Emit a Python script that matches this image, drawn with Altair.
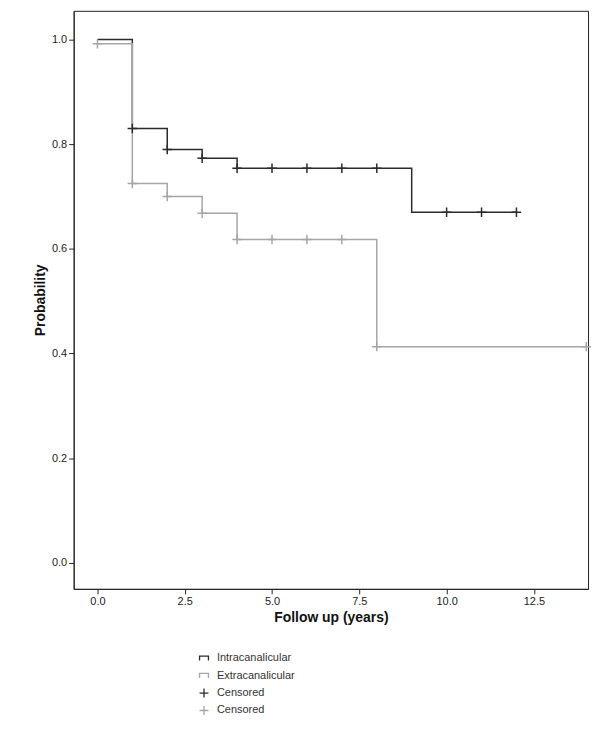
import altair as alt
import pandas as pd

# step curves (time, survival)
intra_t = [0, 1, 2, 3, 4, 9, 12]
intra_s = [1.0, 0.83, 0.79, 0.773, 0.754, 0.67, 0.67]
extra_t = [0, 1, 2, 3, 4, 8, 14]
extra_s = [0.992, 0.725, 0.70, 0.668, 0.618, 0.413, 0.413]

# censored observations
intra_ct = [1, 2, 3, 4, 5, 6, 7, 8, 10, 11, 12]
intra_cs = [0.83, 0.79, 0.773, 0.754, 0.754, 0.754, 0.754, 0.754, 0.67, 0.67, 0.67]
extra_ct = [0, 1, 2, 3, 4, 5, 6, 7, 8, 14]
extra_cs = [0.992, 0.725, 0.70, 0.668, 0.618, 0.618, 0.618, 0.618, 0.413, 0.413]

dark = '#2b2b2b'
light = '#a6a6a6'

curves = pd.concat([
    pd.DataFrame({'t': intra_t, 's': intra_s, 'g': 'Intracanalicular'}),
    pd.DataFrame({'t': extra_t, 's': extra_s, 'g': 'Extracanalicular'}),
])
cens = pd.concat([
    pd.DataFrame({'t': intra_ct, 's': intra_cs, 'g': 'Intracanalicular'}),
    pd.DataFrame({'t': extra_ct, 's': extra_cs, 'g': 'Extracanalicular'}),
])

color = alt.Color('g:N', scale=alt.Scale(domain=['Intracanalicular', 'Extracanalicular'],
                                         range=[dark, light]), legend=None)
xenc = alt.X('t:Q', title='Follow up (years)', scale=alt.Scale(domain=[-0.68, 14.05], nice=False, zero=False),
             axis=alt.Axis(values=[0, 2.5, 5, 7.5, 10, 12.5], format='.1f', grid=False))
yenc = alt.Y('s:Q', title='Probability', scale=alt.Scale(domain=[-0.05, 1.055], nice=False, zero=False),
             axis=alt.Axis(values=[0, 0.2, 0.4, 0.6, 0.8, 1.0], format='.1f', grid=False))

lines = alt.Chart(curves).mark_line(interpolate='step-after', strokeWidth=1.5).encode(
    x=xenc, y=yenc, color=color, detail='g:N')
plus = 'M-1,0L1,0M0,-1L0,1'
marks = alt.Chart(cens).mark_point(shape=plus, filled=False, size=90, strokeWidth=1.5, opacity=1).encode(
    x='t:Q', y='s:Q', color=color)

main = (lines + marks).properties(width=517, height=581)

# legend
leg_labels = ['Intracanalicular', 'Extracanalicular', 'Censored', 'Censored']
leg_colors = [dark, light, dark, light]
leg_shapes = ['M-1,0.5L-1,-0.5L1,-0.5L1,0.5', 'M-1,0.5L-1,-0.5L1,-0.5L1,0.5', plus, plus]
leg = pd.DataFrame({'label': leg_labels, 'c': leg_colors, 'shape': leg_shapes, 'i': [0, 1, 2, 3]})

ly = alt.Y('i:O', axis=None, scale=alt.Scale(paddingOuter=0.5))
sym = alt.Chart(leg).mark_point(filled=False, size=80, strokeWidth=1.3, opacity=1).encode(
    x=alt.value(131), y=ly, color=alt.Color('c:N', scale=None), shape=alt.Shape('shape:N', scale=None))
txt = alt.Chart(leg).mark_text(align='left', fontSize=11, font='Liberation Sans', color='#333').encode(
    x=alt.value(144), y=ly, text='label:N')
legend = (sym + txt).properties(width=517, height=70)

main = main.properties(view=alt.ViewConfig(stroke='#222'))
legend = legend.properties(view=alt.ViewConfig(stroke=None))

chart = alt.vconcat(main, legend, spacing=24, padding={'left': 25, 'top': 0, 'right': 0, 'bottom': 0}).configure_axis(
    labelFont='Liberation Sans', labelFontSize=11, labelColor='#222', titleFont='Liberation Sans',
    titleFontSize=14, titleFontWeight='bold', titleColor='#111', domainColor='#222', tickColor='#222'
)

chart.save("out.html", embed_options={"renderer": "svg", "actions": False})
